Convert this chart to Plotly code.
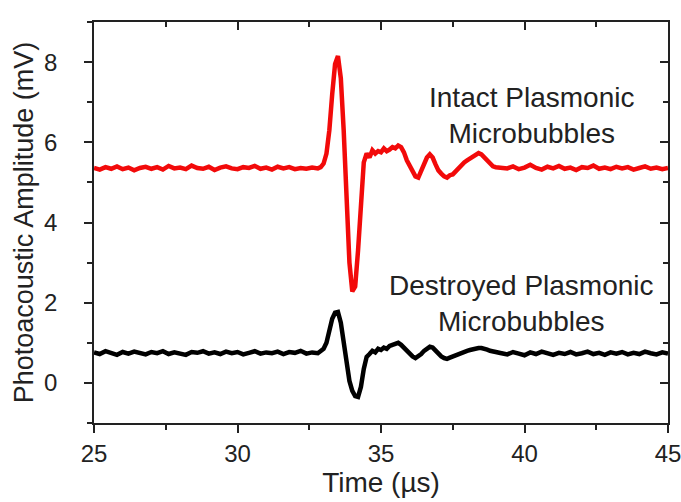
import plotly.graph_objects as go

# Baseline segment (before the pulse), sampled every 0.2 µs
t_pre = [25.0 + 0.2 * i for i in range(40)]
red_pre = [5.36, 5.32, 5.38, 5.34, 5.40, 5.33, 5.37, 5.30, 5.36, 5.39,
           5.34, 5.38, 5.32, 5.41, 5.35, 5.37, 5.33, 5.42, 5.36, 5.34,
           5.39, 5.31, 5.37, 5.40, 5.35, 5.33, 5.38, 5.36, 5.41, 5.34,
           5.37, 5.32, 5.39, 5.35, 5.38, 5.33, 5.36, 5.34, 5.37, 5.35]
black_pre = [0.76, 0.72, 0.79, 0.74, 0.70, 0.77, 0.73, 0.78, 0.75, 0.71,
             0.77, 0.74, 0.79, 0.72, 0.76, 0.73, 0.70, 0.77, 0.75, 0.79,
             0.73, 0.76, 0.72, 0.78, 0.74, 0.77, 0.71, 0.75, 0.79, 0.73,
             0.76, 0.74, 0.78, 0.72, 0.77, 0.75, 0.80, 0.73, 0.76, 0.74]

# Pulse and ringing, sampled every 0.1 µs from 32.9 to 39.0
t_pulse = [round(32.9 + 0.1 * i, 2) for i in range(62)]
red_pulse = [5.38, 5.47, 5.72, 6.30, 7.20, 7.95, 8.15, 7.60, 6.30, 4.60,
             3.00, 2.28, 2.40, 3.30, 4.60, 5.50, 5.72, 5.62, 5.80, 5.72,
             5.78, 5.75, 5.85, 5.78, 5.82, 5.88, 5.85, 5.92, 5.88, 5.75,
             5.55, 5.42, 5.28, 5.15, 5.12, 5.30, 5.48, 5.62, 5.70, 5.62,
             5.45, 5.30, 5.22, 5.15, 5.12, 5.18, 5.20, 5.28, 5.35, 5.42,
             5.50, 5.55, 5.60, 5.65, 5.70, 5.73, 5.70, 5.62, 5.52, 5.44,
             5.40, 5.38]
black_pulse = [0.78, 0.85, 1.00, 1.30, 1.60, 1.75, 1.77, 1.50, 1.00, 0.45,
               0.05, -0.20, -0.33, -0.35, -0.10, 0.35, 0.65, 0.72, 0.80, 0.76,
               0.85, 0.82, 0.88, 0.85, 0.92, 0.95, 0.97, 1.00, 0.95, 0.88,
               0.80, 0.72, 0.66, 0.62, 0.66, 0.72, 0.80, 0.86, 0.90, 0.88,
               0.80, 0.72, 0.66, 0.62, 0.60, 0.63, 0.66, 0.70, 0.72, 0.75,
               0.78, 0.80, 0.82, 0.84, 0.86, 0.87, 0.87, 0.86, 0.83, 0.80,
               0.78, 0.76]

# Tail back to baseline, sampled every 0.2 µs
t_post = [round(39.2 + 0.2 * i, 2) for i in range(30)]
red_post = [5.36, 5.35, 5.40, 5.33, 5.37, 5.44, 5.36, 5.32, 5.39, 5.35,
            5.41, 5.34, 5.37, 5.31, 5.38, 5.36, 5.42, 5.34, 5.37, 5.33,
            5.39, 5.35, 5.38, 5.32, 5.36, 5.40, 5.34, 5.37, 5.33, 5.36]
black_post = [0.74, 0.71, 0.77, 0.73, 0.69, 0.76, 0.72, 0.78, 0.74, 0.70,
              0.75, 0.72, 0.77, 0.71, 0.74, 0.78, 0.72, 0.75, 0.70, 0.76,
              0.73, 0.77, 0.71, 0.75, 0.72, 0.78, 0.74, 0.71, 0.76, 0.73]

time_us = t_pre + t_pulse + t_post
intact = red_pre + red_pulse + red_post
destroyed = black_pre + black_pulse + black_post

x_range = [25, 45]
y_range = [-1, 9]

FONT = "Arial, Liberation Sans, sans-serif"
INK = "#222222"

fig = go.Figure()
fig.add_trace(go.Scatter(x=time_us, y=destroyed, mode="lines",
                         line=dict(color="#000000", width=4.5),
                         showlegend=False, hoverinfo="skip"))
fig.add_trace(go.Scatter(x=time_us, y=intact, mode="lines",
                         line=dict(color="#f20a0a", width=4.5),
                         showlegend=False, hoverinfo="skip"))
# invisible trace that carries the mirrored (inside-tick) axes
fig.add_trace(go.Scatter(x=x_range, y=y_range, xaxis="x2", yaxis="y2",
                         mode="markers", marker=dict(opacity=0),
                         showlegend=False, hoverinfo="skip"))

fig.add_annotation(x=40.26, y=6.67, text="Intact Plasmonic<br>Microbubbles",
                   showarrow=False, xanchor="center", yanchor="middle",
                   align="center", font=dict(family=FONT, size=28, color=INK))
fig.add_annotation(x=39.88, y=1.98, text="Destroyed Plasmonic<br>Microbubbles",
                   showarrow=False, xanchor="center", yanchor="middle",
                   align="center", font=dict(family=FONT, size=28, color=INK))

tick_style = dict(tickcolor=INK, tickwidth=1.5)

fig.update_layout(
    width=681, height=502,
    margin=dict(l=94, r=13, t=22, b=79),
    plot_bgcolor="white", paper_bgcolor="white",
    font=dict(family=FONT, color=INK),
    xaxis=dict(range=x_range, tickmode="linear", tick0=25, dtick=5,
               ticks="outside", ticklen=8, showline=True, mirror=True,
               linecolor=INK, linewidth=1.5, showgrid=False, zeroline=False,
               automargin=False, ticklabeloverflow="allow",
               minor=dict(ticks="outside", ticklen=5, tickmode="linear",
                          tick0=25, dtick=2.5, showgrid=False, **tick_style),
               tickfont=dict(size=24),
               title=dict(text="Time (µs)", font=dict(size=28), standoff=2),
               **tick_style),
    yaxis=dict(range=y_range, tickmode="linear", tick0=0, dtick=2,
               ticks="outside", ticklen=8, showline=True, mirror=True,
               linecolor=INK, linewidth=1.5, showgrid=False, zeroline=False,
               automargin=False, ticklabelstandoff=22,
               minor=dict(ticks="outside", ticklen=5, tickmode="linear",
                          tick0=0, dtick=1, showgrid=False, **tick_style),
               tickfont=dict(size=24),
               title=dict(text="Photoacoustic Amplitude (mV)",
                          font=dict(size=27), standoff=3),
               **tick_style),
    xaxis2=dict(range=x_range, overlaying="x", side="top", anchor="y2",
                tickmode="linear", tick0=25, dtick=5,
                ticks="inside", ticklen=8, showticklabels=False,
                showline=False, showgrid=False, zeroline=False,
                automargin=False,
                minor=dict(ticks="inside", ticklen=5, tickmode="linear",
                           tick0=25, dtick=2.5, showgrid=False, **tick_style),
                **tick_style),
    yaxis2=dict(range=y_range, overlaying="y", side="right", anchor="x2",
                tickmode="linear", tick0=0, dtick=2,
                ticks="inside", ticklen=8, showticklabels=False,
                showline=False, showgrid=False, zeroline=False,
                automargin=False,
                minor=dict(ticks="inside", ticklen=5, tickmode="linear",
                           tick0=0, dtick=1, showgrid=False, **tick_style),
                **tick_style),
)

fig.write_html("out.html")
